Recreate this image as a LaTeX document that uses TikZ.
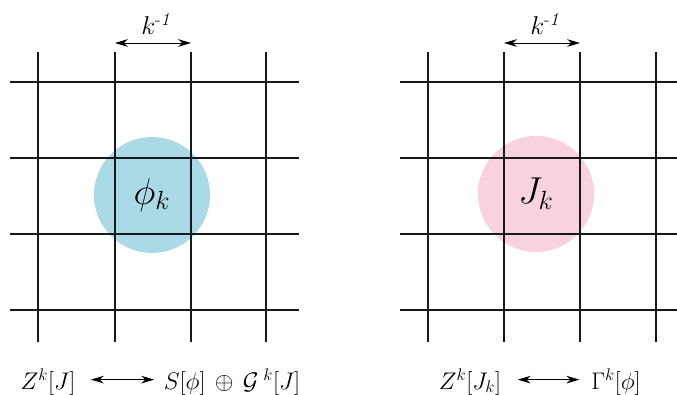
\RequirePackage{fix-cm}
\documentclass[tikz,border=0pt]{standalone}
\usepackage{amsmath,amssymb}
\usepackage{tikz}
\usetikzlibrary{arrows.meta,positioning}
\definecolor{dotblue}{RGB}{170,218,230}
\definecolor{dotpink}{RGB}{248,210,224}
\pgfdeclareradialshading{bluedot}{\pgfpoint{0bp}{0bp}}{color(0bp)=(dotblue); color(38bp)=(dotblue); color(50bp)=(white)}
\pgfdeclareradialshading{pinkdot}{\pgfpoint{0bp}{0bp}}{color(0bp)=(dotpink); color(35bp)=(dotpink); color(50bp)=(white)}
\begin{document}
\begin{tikzpicture}[x=0.03cm,y=-0.03cm,
  grid/.style={line width=0.95pt,black!90},
  span/.style={{Stealth[length=11pt,width=6.5pt,inset=3.5pt]}-{Stealth[length=11pt,width=6.5pt,inset=3.5pt]},line width=0.8pt},
  lbl/.style={font=\fontsize{20.5}{24}\selectfont,anchor=base,inner sep=0pt},
  big/.style={font=\fontsize{32}{36}\selectfont}]
\useasboundingbox (0,0) rectangle (677,395);

% soft dots
\shade[shading=bluedot] (152,195) circle (58);
\shade[shading=pinkdot] (536,194) circle (58);

% lattices
\foreach \x in {38,115,191,266} \draw[grid] (\x,52) -- (\x,342);
\foreach \y in {82,158,234,310} \draw[grid] (10,\y) -- (299,\y);
\foreach \x in {428,504,580,656} \draw[grid] (\x,52) -- (\x,342);
\foreach \y in {82,158,234,310} \draw[grid] (400,\y) -- (677,\y);

% fields
\node[big] (phi) at (152,195) {$\phi_k$};
\node[big] (src) at (536,194) {$J_k$};

% lattice spacing
\coordinate (la) at (115,43);
\coordinate (lb) at (191,43);
\draw[span] (la) -- (lb);
\node[font=\fontsize{22}{26}\selectfont] (kl) at (157,24) {$k^{\text{-}\mathit{1}}$};
\coordinate (ra) at (504,43);
\coordinate (rb) at (580,43);
\draw[span] (ra) -- (rb);
\node[font=\fontsize{22}{26}\selectfont] (kr) at (546,24) {$k^{\text{-}\mathit{1}}$};

% dualities
\node[lbl] (zl) at (48,389) {$Z^k[J]$};
\node[lbl] (sl) at (232,389) {$S[\phi]\,\oplus\,\mathcal{G}^{\;k}[J]$};
\draw[span,shorten <=13pt,shorten >=8pt] ([yshift=8pt]zl.base east) -- ([yshift=8pt]sl.base west);
\node[lbl] (zr) at (470,389) {$Z^k[J_k]$};
\node[lbl] (gr) at (616,389) {$\Gamma^k[\phi]$};
\draw[span,shorten <=14pt,shorten >=10pt] ([yshift=8pt]zr.base east) -- ([yshift=8pt]gr.base west);
\end{tikzpicture}
\end{document}
